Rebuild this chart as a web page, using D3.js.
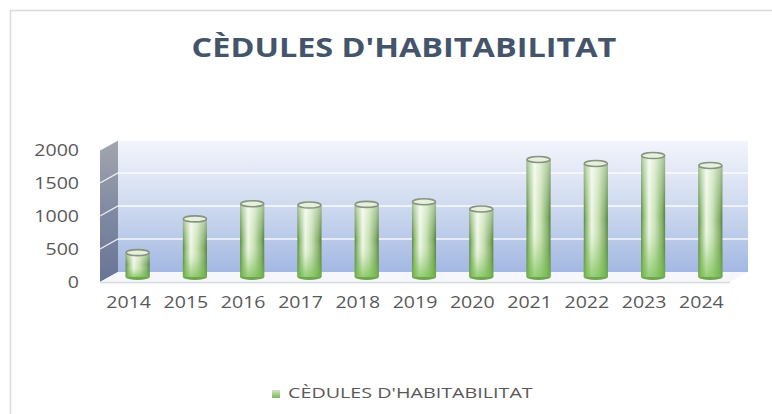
<!DOCTYPE html>
<meta charset="utf-8">
<script src="https://d3js.org/d3.v7.min.js"></script>
<style>
  body { margin: 0; background: #fff; }
  text { font-family: "Open Sans", sans-serif; }
</style>
<body>
<div id="chart"></div>
<script>

// data
const years  = ["2014","2015","2016","2017","2018","2019","2020","2021","2022","2023","2024"];
const values = [370, 880, 1110, 1090, 1100, 1140, 1030, 1780, 1720, 1840, 1690];
const yTicks = [0, 500, 1000, 1500, 2000];
const seriesName = "CÈDULES D'HABITABILITAT";
const chartTitle = "CÈDULES D'HABITABILITAT";

const W = 772, H = 414;
// 3d depth offset of the plot box
const depth = {dx: 18, dy: -10};

const svg = d3.select("#chart").append("svg")
    .attr("width", W)
    .attr("height", H);

const defs = svg.append("defs");

// back wall gradient
var g1 = defs.append("linearGradient").attr("id", "wall").attr("x1", 0).attr("y1", 0).attr("x2", 0).attr("y2", 1);
g1.append("stop").attr("offset", "0%").attr("stop-color", "#f3f5fb");
g1.append("stop").attr("offset", "45%").attr("stop-color", "#d3ddf1");
g1.append("stop").attr("offset", "100%").attr("stop-color", "#a3b8e2");

// side wall gradient
var g2 = defs.append("linearGradient").attr("id", "side").attr("x1", 0).attr("y1", 0).attr("x2", 0).attr("y2", 1);
g2.append("stop").attr("offset", "0%").attr("stop-color", "#a3a6ae");
g2.append("stop").attr("offset", "50%").attr("stop-color", "#808aa2");
g2.append("stop").attr("offset", "100%").attr("stop-color", "#677595");

// cylinder body, left-right shading
var g3 = defs.append("linearGradient").attr("id", "cyl").attr("x1", 0).attr("y1", 0).attr("x2", 1).attr("y2", 0);
[["0%","#5a8344"],["10%","#8fbb72"],["33%","#eef7e6"],["60%","#c4dfb0"],["88%","#80ad64"],["100%","#557d40"]]
  .forEach(function(s){ g3.append("stop").attr("offset", s[0]).attr("stop-color", s[1]); });

// cylinder body, top-bottom tint
var g4 = defs.append("linearGradient").attr("id", "cylv").attr("x1", 0).attr("y1", 0).attr("x2", 0).attr("y2", 1);
g4.append("stop").attr("offset", "0%").attr("stop-color", "#ffffff").attr("stop-opacity", 0.45);
g4.append("stop").attr("offset", "50%").attr("stop-color", "#ffffff").attr("stop-opacity", 0);
g4.append("stop").attr("offset", "75%").attr("stop-color", "#7cc055").attr("stop-opacity", 0.2);
g4.append("stop").attr("offset", "100%").attr("stop-color", "#74bd4b").attr("stop-opacity", 0.7);

// legend key
var g5 = defs.append("linearGradient").attr("id", "key").attr("x1", 0).attr("y1", 0).attr("x2", 0).attr("y2", 1);
g5.append("stop").attr("offset", "0%").attr("stop-color", "#cfe6bd");
g5.append("stop").attr("offset", "100%").attr("stop-color", "#7cb95a");

// chart area border
svg.append("rect")
    .attr("x", 10.5).attr("y", 10.5)
    .attr("width", W).attr("height", H)
    .attr("fill", "#fff")
    .attr("stroke", "#d9d9e0")
    .attr("stroke-width", 1.5);

// scales (front plane)
var x = d3.scaleBand().domain(years).range([100, 730]);
var y = d3.scaleLinear().domain([0, 2000]).range([282, 150]);

var x0 = x.range()[0], x1 = x.range()[1];
var yTop = y(2000), yBot = y(0);

// back wall
svg.append("rect")
    .attr("x", x0 + depth.dx).attr("y", yTop + depth.dy)
    .attr("width", x1 - x0).attr("height", yBot - yTop)
    .attr("fill", "url(#wall)");

// side wall
svg.append("path")
    .attr("d", "M" + x0 + "," + yTop + "L" + (x0 + depth.dx) + "," + (yTop + depth.dy) +
               "L" + (x0 + depth.dx) + "," + (yBot + depth.dy) + "L" + x0 + "," + yBot + "Z")
    .attr("fill", "url(#side)");

// floor
svg.append("path")
    .attr("d", "M" + x0 + "," + yBot + "L" + (x0 + depth.dx) + "," + (yBot + depth.dy) +
               "L" + (x1 + depth.dx) + "," + (yBot + depth.dy) + "L" + x1 + "," + yBot + "Z")
    .attr("fill", "#f6f7fc");
svg.append("line")
    .attr("x1", x0).attr("x2", x1)
    .attr("y1", yBot + 0.5).attr("y2", yBot + 0.5)
    .attr("stroke", "#d9dbe3").attr("stroke-width", 1.5);

// gridlines: side wall + back wall
var grid = svg.append("g");
yTicks.filter(function(t){ return t > 0; }).forEach(function(t){
  grid.append("polyline")
    .attr("points", x0 + "," + y(t) + " " + (x0 + depth.dx) + "," + (y(t) + depth.dy) + " " + (x1 + depth.dx) + "," + (y(t) + depth.dy))
    .attr("fill", "none")
    .attr("stroke", "#ffffff")
    .attr("stroke-opacity", 0.85)
    .attr("stroke-width", 1.3);
});

// cylinders, placed at half depth
var bw = x.bandwidth() * 0.42;
var ry = 3;
var bars = svg.append("g").selectAll("g")
  .data(years.map(function(d, i){ return {year: d, value: values[i]}; }))
  .enter().append("g")
    .attr("transform", "translate(" + (depth.dx / 2) + "," + (depth.dy / 2) + ")");

bars.append("ellipse")
    .attr("cx", function(d){ return x(d.year) + x.bandwidth() / 2; })
    .attr("cy", y(0))
    .attr("rx", bw / 2).attr("ry", ry)
    .attr("fill", "#6da64c");
bars.append("rect")
    .attr("x", function(d){ return x(d.year) + x.bandwidth() / 2 - bw / 2; })
    .attr("y", function(d){ return y(d.value); })
    .attr("width", bw)
    .attr("height", function(d){ return y(0) - y(d.value); })
    .attr("fill", "url(#cyl)");
bars.append("rect")
    .attr("x", function(d){ return x(d.year) + x.bandwidth() / 2 - bw / 2; })
    .attr("y", function(d){ return y(d.value); })
    .attr("width", bw)
    .attr("height", function(d){ return y(0) - y(d.value); })
    .attr("fill", "url(#cylv)");
bars.append("ellipse")
    .attr("cx", function(d){ return x(d.year) + x.bandwidth() / 2; })
    .attr("cy", function(d){ return y(d.value); })
    .attr("rx", bw / 2 - 0.5).attr("ry", ry)
    .attr("fill", "#e6f0dc")
    .attr("stroke", "#86947f")
    .attr("stroke-width", 1.6);

// stretch text horizontally like the source
function stretch(sel, k) {
  sel.each(function(){
    var len = this.getComputedTextLength();
    d3.select(this).attr("textLength", len * k).attr("lengthAdjust", "spacingAndGlyphs");
  });
}

// y axis
var yAxis = svg.append("g")
    .attr("transform", "translate(" + x0 + ",0)")
    .call(d3.axisLeft(y).tickValues(yTicks).tickSize(0).tickPadding(21).tickFormat(d3.format("d")));
yAxis.select(".domain").remove();
yAxis.selectAll("text")
    .attr("fill", "#595959")
    .style("font-family", "'Open Sans', sans-serif")
    .style("font-size", "16px")
    .call(stretch, 1.22);

// x axis
var xAxis = svg.append("g")
    .attr("transform", "translate(0," + yBot + ")")
    .call(d3.axisBottom(x).tickSize(0).tickPadding(15));
xAxis.select(".domain").remove();
xAxis.selectAll("text")
    .attr("fill", "#595959")
    .style("font-family", "'Open Sans', sans-serif")
    .style("font-size", "16px")
    .call(stretch, 1.22);

// title
svg.append("text")
    .attr("x", 404).attr("y", 57)
    .attr("text-anchor", "middle")
    .attr("fill", "#44546a")
    .style("font-size", "27px")
    .style("font-weight", "bold")
    .text(chartTitle)
    .call(stretch, 1.2);

// legend
svg.append("rect")
    .attr("x", 272).attr("y", 390)
    .attr("width", 8).attr("height", 8)
    .attr("fill", "url(#key)");
svg.append("text")
    .attr("x", 288).attr("y", 398)
    .attr("fill", "#595959")
    .style("font-size", "14.5px")
    .text(seriesName)
    .call(stretch, 1.36);

</script>
</body>
